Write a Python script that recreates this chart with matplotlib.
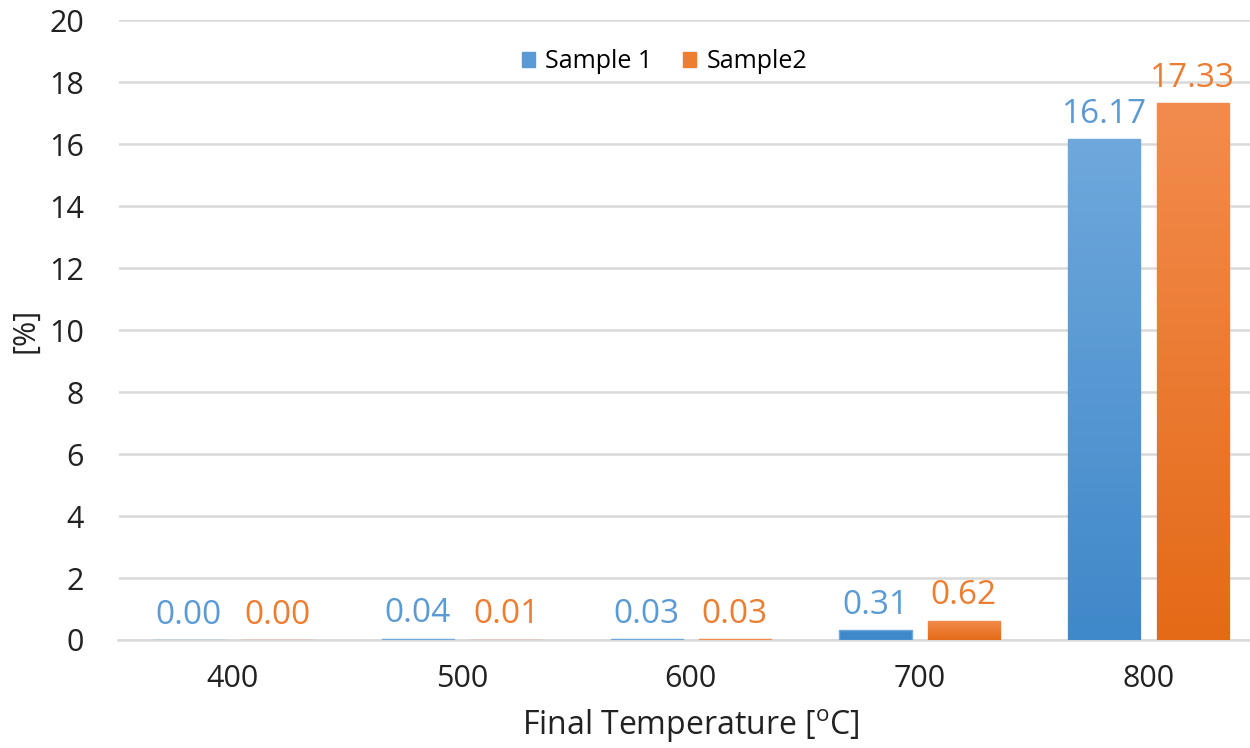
import numpy as np
import matplotlib
matplotlib.use('Agg')
import matplotlib.pyplot as plt
from matplotlib.colors import LinearSegmentedColormap

# data
temps = ['400', '500', '600', '700', '800']
sample1 = [0.00, 0.04, 0.03, 0.31, 16.17]
sample2 = [0.00, 0.01, 0.03, 0.62, 17.33]
series_names = ['Sample 1', 'Sample2']

plt.rcParams['font.family'] = ['Open Sans', 'DejaVu Sans']

BLUE = '#5b9bd5'
ORANGE = '#ed7d31'
# gradient (top -> bottom) for each series
grads = [('#6fa8dc', '#3f88c9'), ('#f28c4e', '#e46a17')]

fig = plt.figure(figsize=(12.5, 7.48), dpi=100)
ax = fig.add_axes([0.0948, 0.1444, 0.9156, 0.8286])

x = np.arange(len(temps))
w = 0.315
off = 0.193


def gradient_bars(xs, vals, c_top, c_bot):
    bars = ax.bar(xs, vals, width=w, color=c_bot, edgecolor=c_top,
                  linewidth=1.0, zorder=3)
    cmap = LinearSegmentedColormap.from_list('g', [c_bot, c_top])
    for b in bars:
        h = b.get_height()
        if h <= 0.5:
            continue
        x0 = b.get_x()
        grad = np.linspace(0, 1, 256).reshape(-1, 1)
        im = ax.imshow(grad, cmap=cmap, origin='lower', aspect='auto',
                       extent=[x0, x0 + b.get_width(), 0, h], zorder=3)
        im.set_clip_path(b)
    return bars


b1 = gradient_bars(x - off, sample1, *grads[0])
b2 = gradient_bars(x + off, sample2, *grads[1])

for xs, vals, col in [(x - off, sample1, BLUE), (x + off, sample2, ORANGE)]:
    for xi, v in zip(xs, vals):
        ax.annotate(f'{v:.2f}', (xi, v), xytext=(0, 6), textcoords='offset points',
                    ha='center', va='bottom', color=col, fontsize=24)

ax.set_xlim(-0.5, len(temps) - 0.5)
ax.set_ylim(0, 20)
ax.set_yticks(range(0, 21, 2))
ax.set_xticks(x)
ax.set_xticklabels(temps)
ax.tick_params(axis='both', length=0, labelsize=22, colors='#222222')
ax.tick_params(axis='y', pad=25)
ax.tick_params(axis='x', pad=17)
ax.grid(axis='y', color='#d9d9d9', linewidth=1.8, zorder=0)
ax.set_axisbelow(True)
for s in ['top', 'right', 'left']:
    ax.spines[s].set_visible(False)
ax.spines['bottom'].set_color('#d9d9d9')
ax.spines['bottom'].set_linewidth(1.8)

ax.set_xlabel('Final Temperature [$\\mathregular{^{o}}$C]', fontsize=23, color='#222222', labelpad=10)
ax.set_ylabel('[%]', fontsize=22, color='#222222', labelpad=6)

handles = [plt.Rectangle((0, 0), 1, 1, color=BLUE), plt.Rectangle((0, 0), 1, 1, color=ORANGE)]
ax.legend(handles, series_names, loc='upper center', bbox_to_anchor=(0.477, 0.99),
          ncol=2, frameon=False, fontsize=18, handlelength=0.55, handleheight=0.55,
          handletextpad=0.4, columnspacing=1.2)

fig.savefig('out.png', dpi=100)
